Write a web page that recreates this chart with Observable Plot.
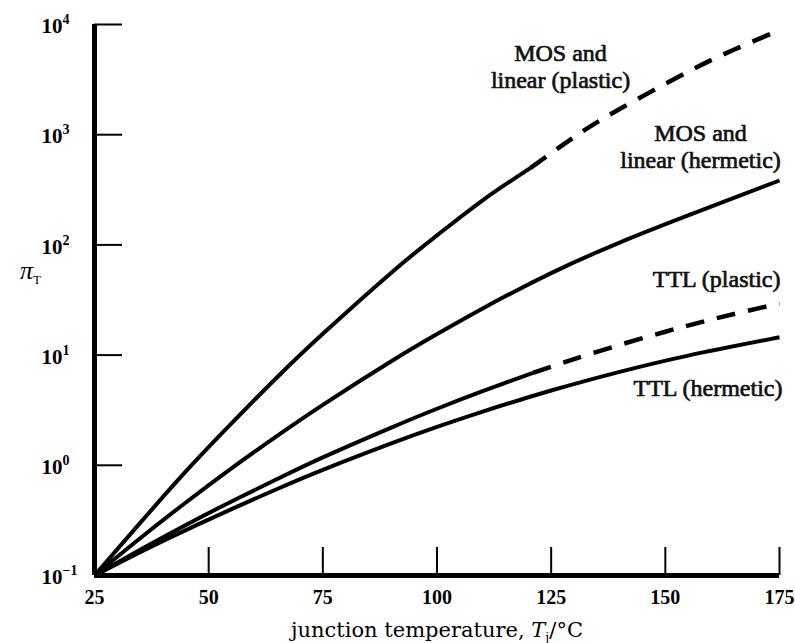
<!DOCTYPE html>
<html><head><meta charset="utf-8">
<script src="https://cdn.jsdelivr.net/npm/d3@7"></script>
<script src="https://cdn.jsdelivr.net/npm/@observablehq/plot@0.6"></script>
<style>body{margin:0;background:#fff}</style>
</head><body><div id="chart"></div>
<script>
// ---- data (junction temperature °C, pi_T) ----
const xTicks = [25, 50, 75, 100, 125, 150, 175];
const yTicks = [0.1, 1, 10, 100, 1000, 10000];

const mosPlasticT = [25, 35, 45, 55, 65, 75, 90, 100, 110, 120.5];
const mosPlasticV = [0.1, 0.30, 0.88, 2.4, 6.3, 15.6, 56, 122, 254, 500];
const mosPlasticDashT = [120.5, 130, 140, 155, 165, 175];
const mosPlasticDashV = [500, 950, 1710, 3730, 5900, 8900];

const mosHermeticT = [25, 35, 45, 55, 65, 75, 90, 100, 110, 125, 140, 155, 175];
const mosHermeticV = [0.1, 0.218, 0.46, 0.94, 1.85, 3.54, 8.8, 15.5, 26.5, 55.5, 105, 185, 384];

const ttlPlasticT = [25, 35, 45, 55, 65, 75, 90, 100, 110, 121];
const ttlPlasticV = [0.1, 0.171, 0.287, 0.47, 0.75, 1.18, 2.2, 3.26, 4.7, 6.9];
const ttlPlasticDashT = [121, 135, 150, 162, 175];
const ttlPlasticDashV = [6.9, 10.7, 16.3, 22, 29.4];

const ttlHermeticT = [25, 35, 45, 55, 65, 75, 90, 100, 110, 125, 140, 155, 175];
const ttlHermeticV = [0.1, 0.163, 0.258, 0.40, 0.61, 0.91, 1.58, 2.23, 3.07, 4.77, 7.05, 9.9, 14.5];

const labels = {
  mosPlastic: "MOS and\nlinear (plastic)",
  mosHermetic: "MOS and\nlinear (hermetic)",
  ttlPlastic: "TTL (plastic)",
  ttlHermetic: "TTL (hermetic)"
};
const yLabel = "\u03c0|T";
const xLabel = "junction temperature, |T|j|/\u00b0C";

const rows = (T, V) => T.map((t, i) => ({t, v: V[i]}));
const A = rows(mosPlasticT, mosPlasticV);
const Ad = rows(mosPlasticDashT, mosPlasticDashV);
const B = rows(mosHermeticT, mosHermeticV);
const C = rows(ttlPlasticT, ttlPlasticV);
const Cd = rows(ttlPlasticDashT, ttlPlasticDashV);
const D = rows(ttlHermeticT, ttlHermeticV);

const W = 795, H = 643, ML = 94, MR = 16, MT = 24, MB = 68;
const frameW = W - ML - MR, frameH = H - MT - MB;

const solid = {x: "t", y: "v", curve: "natural", stroke: "#000", strokeWidth: 4, strokeLinecap: "butt"};
const dashed = {...solid, strokeWidth: 4.5, strokeDasharray: "19,13"};
const lbl = {x: "t", y: "v", fontFamily: "Liberation Serif", fontSize: 24, fill: "#111",
  stroke: "#111", strokeWidth: 0.7, lineHeight: 1.12};
const numFont = {fontFamily: "Liberation Serif", fontWeight: "bold"};

const chart = Plot.plot({
  width: W, height: H,
  marginLeft: ML, marginRight: MR, marginTop: MT, marginBottom: MB,
  x: {domain: [25, 175]},
  y: {type: "log", domain: [0.1, 10000]},
  style: {fontFamily: "DejaVu Serif", background: "#fff", color: "#000"},
  marks: [
    Plot.axisX(xTicks, {tickSize: 0, tickPadding: 14, fontSize: 20, ...numFont, label: null}),
    Plot.axisY(yTicks, {tickSize: 0, tickPadding: 53, textAnchor: "start", dy: 2, fontSize: 21, ...numFont, label: null,
      tickFormat: d => "10^" + String(Math.round(Math.log10(d))).replace("-", "\u2212")}),
    Plot.ruleX(xTicks, {x: d => d, insetTop: frameH - 28, strokeWidth: 2}),
    Plot.ruleY(yTicks, {y: d => d, insetRight: frameW - 28, strokeWidth: 2}),
    Plot.ruleX([25], {strokeWidth: 5}),
    Plot.ruleY([0.1], {strokeWidth: 5}),
    Plot.line(A, solid),
    Plot.line(Ad, dashed),
    Plot.line(B, solid),
    Plot.line(C, solid),
    Plot.line(Cd, dashed),
    Plot.line(D, solid),
    Plot.text(Ad, Plot.selectLast({...lbl, text: () => labels.mosPlastic, textAnchor: "middle", dx: -219, dy: 36})),
    Plot.text(B, Plot.selectLast({...lbl, text: () => labels.mosHermetic, textAnchor: "middle", dx: -79, dy: -35})),
    Plot.text(Cd, Plot.selectLast({...lbl, text: () => labels.ttlPlastic, textAnchor: "end", dx: 1, dy: -25})),
    Plot.text(D, Plot.selectLast({...lbl, text: () => labels.ttlHermetic, textAnchor: "end", dx: 3, dy: 50})),
    Plot.text([yLabel], {frameAnchor: "left", dx: -64, dy: -29, textAnchor: "middle", fontFamily: "Liberation Serif", fontSize: 26}),
    Plot.text([xLabel], {frameAnchor: "bottom", dy: 61, lineAnchor: "bottom", textAnchor: "middle", fontFamily: "DejaVu Serif", fontSize: 21})
  ]
});

const NS = "http://www.w3.org/2000/svg";
const tspan = (txt, attrs = {}) => {
  const s = document.createElementNS(NS, "tspan");
  for (const k in attrs) s.setAttribute(k, attrs[k]);
  s.textContent = txt;
  return s;
};
chart.querySelectorAll("text").forEach(t => {
  const s = t.textContent;
  if (/^10\^/.test(s)) {
    const [b, e] = s.split("^");
    t.textContent = b;
    t.appendChild(tspan(e, {dy: "-9", "font-size": "14"}));
  } else if (s === yLabel) {
    t.textContent = "";
    t.appendChild(tspan("\u03c0", {"font-style": "italic"}));
    t.appendChild(tspan("T", {dy: "5", "font-size": "13"}));
  } else if (s === xLabel) {
    const [a, , b, c] = s.split("|");
    t.textContent = "";
    t.appendChild(tspan(a));
    t.appendChild(tspan("T", {"font-style": "italic"}));
    t.appendChild(tspan(b, {dy: "5", "font-size": "13"}));
    t.appendChild(tspan(c, {dy: "-5"}));
  }
});
document.getElementById("chart").appendChild(chart);
</script>
</body></html>
